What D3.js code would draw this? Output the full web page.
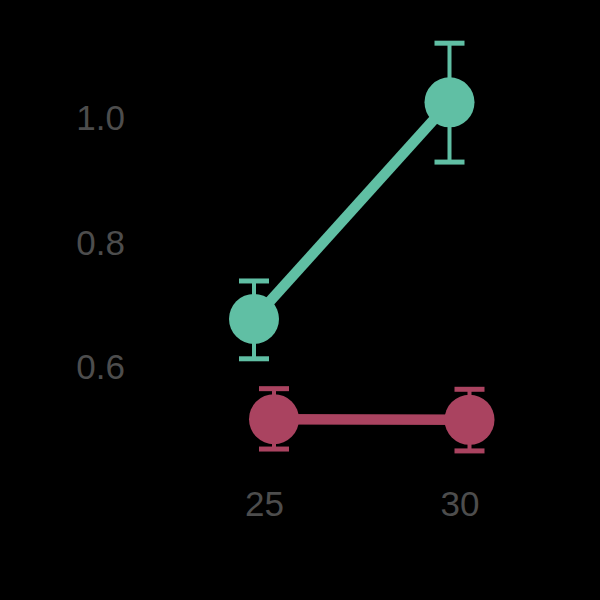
<!DOCTYPE html>
<html>
<head>
<meta charset="utf-8">
<script src="https://cdn.jsdelivr.net/npm/d3@7"></script>
<style>
  body { margin: 0; background: #000; }
</style>
</head>
<body>
<div id="chart"></div>
<script>
// data
const temps = [25, 30];
const seriesNames = ["green", "red"];
const greenMean = [0.678, 1.026];
const greenLow = [0.614, 0.930];
const greenHigh = [0.739, 1.121];
const redMean = [0.517, 0.516];
const redLow = [0.469, 0.466];
const redHigh = [0.566, 0.565];
const yTicks = [0.6, 0.8, 1.0];

const width = 600;
const height = 600;

const colors = { green: "#60bfa4", red: "#aa4360" };
const dodge = { green: -10, red: 10 };

const series = [
    { name: "green", mean: greenMean, low: greenLow, high: greenHigh },
    { name: "red", mean: redMean, low: redLow, high: redHigh }
];

const svg = d3.select("#chart")
    .append("svg")
    .attr("width", width)
    .attr("height", height)
    .style("background", "#000");

const x = d3.scaleLinear().domain([25, 30]).range([264, 459.5]);
const y = d3.scaleLinear().domain([0.6, 1.0]).range([367.5, 118.5]);

// y axis labels only (no lines)
const yAxis = svg.append("g")
    .attr("transform", "translate(125,0)")
    .call(d3.axisLeft(y).tickValues(yTicks).tickFormat(d3.format(".1f")).tickSize(0).tickPadding(0));
yAxis.select(".domain").remove();
yAxis.selectAll("text")
    .attr("fill", "#4d4d4d")
    .style("font-family", "Liberation Sans, Arial, sans-serif")
    .style("font-size", "35px");

const xAxis = svg.append("g")
    .attr("transform", "translate(0,491)")
    .call(d3.axisBottom(x).tickValues(temps).tickFormat(d3.format("d")).tickSize(0).tickPadding(0));
xAxis.select(".domain").remove();
xAxis.selectAll("text")
    .attr("fill", "#4d4d4d")
    .style("font-family", "Liberation Sans, Arial, sans-serif")
    .style("font-size", "35px");

const line = d3.line()
    .x(d => d.x)
    .y(d => d.y);

series.forEach(s => {
    const pts = temps.map((t, i) => ({
        x: x(t) + dodge[s.name],
        y: y(s.mean[i]),
        lo: y(s.low[i]),
        hi: y(s.high[i])
    }));
    const g = svg.append("g");

    g.append("path")
        .datum(pts)
        .attr("d", line)
        .attr("fill", "none")
        .attr("stroke", colors[s.name])
        .attr("stroke-width", 10.5);

    // error bars
    g.selectAll("line.stem")
        .data(pts)
        .join("line")
        .attr("class", "stem")
        .attr("x1", d => d.x).attr("x2", d => d.x)
        .attr("y1", d => d.lo).attr("y2", d => d.hi)
        .attr("stroke", colors[s.name])
        .attr("stroke-width", 4);

    ["lo", "hi"].forEach(k => {
        g.selectAll("line.cap" + k)
            .data(pts)
            .join("line")
            .attr("class", "cap" + k)
            .attr("x1", d => d.x - 15).attr("x2", d => d.x + 15)
            .attr("y1", d => d[k]).attr("y2", d => d[k])
            .attr("stroke", colors[s.name])
            .attr("stroke-width", 5);
    });

    g.selectAll("circle")
        .data(pts)
        .join("circle")
        .attr("cx", d => d.x)
        .attr("cy", d => d.y)
        .attr("r", 25)
        .attr("fill", colors[s.name]);
});
</script>
</body>
</html>
